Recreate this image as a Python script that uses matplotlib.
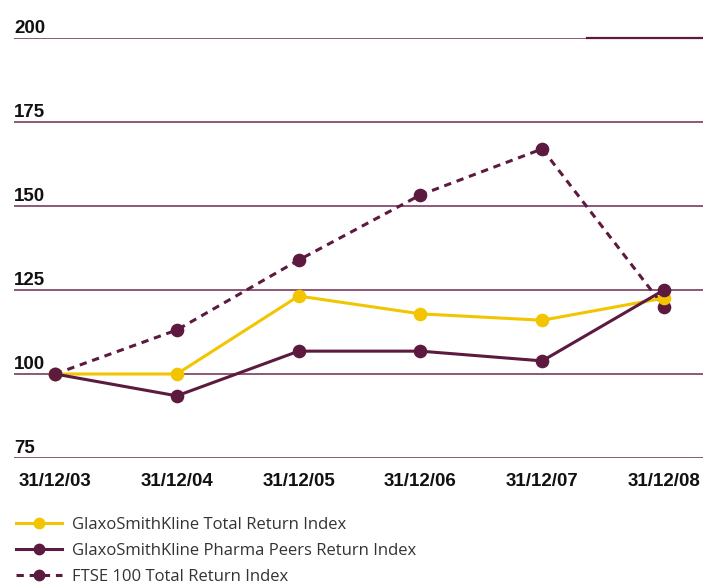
import matplotlib.pyplot as plt

dates = ['31/12/03', '31/12/04', '31/12/05', '31/12/06', '31/12/07', '31/12/08']
gsk_total = [100, 100, 123.2, 117.9, 116.0, 122.6]
pharma_peers = [100, 93.5, 106.8, 106.8, 103.9, 125.0]
ftse_100 = [100, 113.1, 133.9, 153.3, 167.0, 120.0]
y_ticks = [75, 100, 125, 150, 175, 200]

yellow = '#f2c500'
plum = '#5c1a3f'
grid_col = '#6e2a50'

plt.rcParams['font.family'] = ['Liberation Sans', 'DejaVu Sans']

fig = plt.figure(figsize=(7.03, 5.86), dpi=100)
ax = fig.add_axes([14 / 703, 1 - 458 / 586, 689 / 703, 420 / 586])
ax.set_xlim(-0.337, 5.32)
ax.set_ylim(75, 200)
ax.axis('off')

# gridlines + labels sitting just above them
for v in y_ticks:
    ax.axhline(v, color=grid_col, lw=1.1, zorder=1)
    ax.text(0, v + 1.5, str(v), transform=ax.get_yaxis_transform(),
            ha='left', va='baseline', fontsize=13.5, fontweight='bold', color='#111111')
ax.plot([4.37, 5.32], [200, 200], color=plum, lw=1.6, zorder=1, clip_on=False)

x = list(range(len(dates)))
ax.plot(x, ftse_100, color=plum, lw=2.2, ls=(0, (2.4, 1.9)), marker='o', ms=8.8,
        label='FTSE 100 Total Return Index', zorder=3, clip_on=False)
ax.plot(x, gsk_total, color=yellow, lw=2.2, marker='o', ms=8.8,
        label='GlaxoSmithKline Total Return Index', zorder=4, clip_on=False)
ax.plot(x, pharma_peers, color=plum, lw=2.2, marker='o', ms=8.8,
        label='GlaxoSmithKline Pharma Peers Return Index', zorder=5, clip_on=False)

for xi, d in zip(x, dates):
    ax.text(xi, 75 - 7.0, d, ha='center', va='center', fontsize=13.5,
            fontweight='bold', color='#111111')

handles, labels = ax.get_legend_handles_labels()
order = [1, 2, 0]
fig.legend([handles[i] for i in order], [labels[i] for i in order],
           loc='upper left', bbox_to_anchor=(9 / 703, 1 - 510 / 586),
           frameon=False, prop={'family': ['Open Sans', 'DejaVu Sans'], 'size': 12},
           handlelength=2.8, handletextpad=0.55, markerscale=0.85,
           labelspacing=0.62, labelcolor='#333333', borderaxespad=0)

fig.savefig('out.png', dpi=100)
